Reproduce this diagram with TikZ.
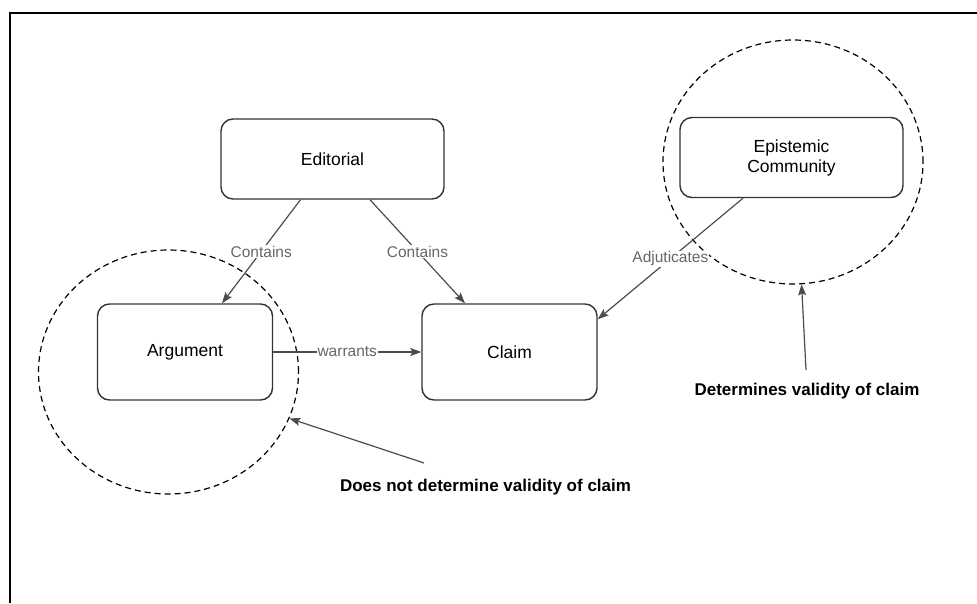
\documentclass[tikz,border=0pt]{standalone}
\usepackage{fontspec}
\setmainfont{Liberation Sans}
\usetikzlibrary{positioning, shapes.geometric, arrows.meta}

\begin{document}
\begin{tikzpicture}[x=1pt, y=-1pt, every node/.style={font=\fontsize{17.5}{20}\selectfont}]
  % Styles
  \tikzset{
    box/.style = {draw=black!80, line width=1.4pt, rounded corners=12pt, align=center},
    topbox/.style = {box, minimum width=223pt, minimum height=80pt},
    lowbox/.style = {box, minimum width=175pt, minimum height=96pt},
    ring/.style = {draw, shape=ellipse, line width=1.2pt, dash pattern=on 6pt off 4pt, inner sep=0pt, minimum width=260pt, minimum height=244pt},
    link/.style = {-{Stealth[length=11pt, width=8pt, inset=2pt]}, draw=black!70, line width=1.2pt},
    linklabel/.style = {fill=white, text=black!60, inner sep=1pt, font=\fontsize{15.5}{18}\selectfont},
    note/.style = {font=\bfseries\fontsize{17}{20}\selectfont}
  }

  % Page
  \useasboundingbox (0,0) rectangle (977,603);
  \draw[line width=2pt] (977,13) -- (10.3,13) -- (10.3,603);

  % Rings
  \node[ring] (ArgRing) at (168.5,372) {};
  \node[ring] (EpiRing) at (793,162) {};

  % Boxes
  \node[topbox] (Editorial) at (332.5,159) {Editorial};
  \node[topbox] (Epistemic) at (791.5,157.5) {Epistemic\\Community};
  \node[lowbox] (Argument) at (185,352) {Argument};
  \node[lowbox] (Claim) at (509.5,352) {Claim};

  % Notes
  \node[note] (NotValid) at (485.5,487) {Does not determine validity of claim};
  \node[note] (Valid) at (807,391) {Determines validity of claim};
  \coordinate (NotValidTail) at (424,463);
  \coordinate (ValidTail) at (806,370);

  % Connections
  \draw[link] ([xshift=-32pt]Editorial.south) -- node[linklabel] {Contains} ([xshift=37pt]Argument.north);
  \draw[link] ([xshift=37.5pt]Editorial.south) -- node[linklabel] {Contains} ([xshift=-44.5pt]Claim.north);
  \draw[link] ([xshift=-48.5pt]Epistemic.south) -- node[linklabel] {Adjuticates} ([yshift=-16pt]Claim.north east);
  \draw[link] (Argument) -- node[linklabel] {warrants} (Claim);

  % Note arrows
  \draw[link] (NotValidTail) -- (ArgRing.-21);
  \draw[link] (ValidTail) -- (EpiRing.-86);

\end{tikzpicture}
\end{document}
